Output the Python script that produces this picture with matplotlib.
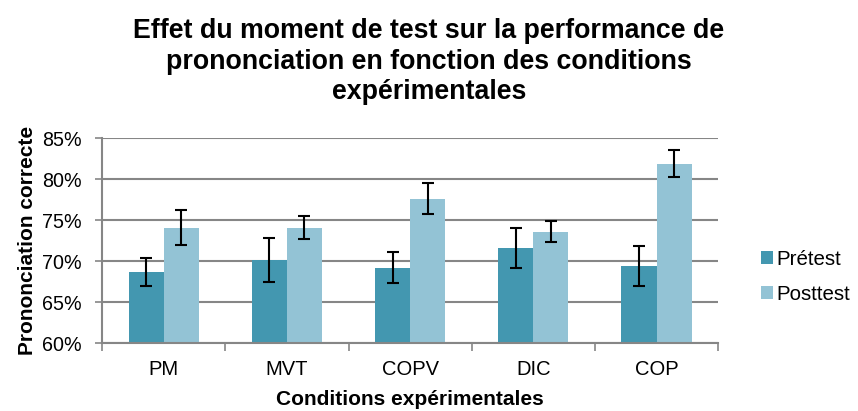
import numpy as np
import matplotlib.pyplot as plt
from matplotlib.ticker import PercentFormatter

conditions = ['PM', 'MVT', 'COPV', 'DIC', 'COP']
pretest = [68.7, 70.1, 69.2, 71.6, 69.4]
posttest = [74.1, 74.1, 77.6, 73.6, 81.9]
pretest_err = [1.7, 2.7, 1.9, 2.45, 2.4]
posttest_err = [2.1, 1.35, 1.9, 1.25, 1.65]

plt.rcParams['font.family'] = ['Liberation Sans', 'DejaVu Sans']

fig = plt.figure(figsize=(8.58, 4.11), dpi=100)
ax = fig.add_axes([0.119, 0.165, 0.718, 0.499])

x = np.arange(len(conditions))
w = 0.285
grid_c = '#868686'
ax.bar(x - w/2, pretest, w, color='#4397B0', label='Prétest', zorder=2)
ax.bar(x + w/2, posttest, w, color='#93C3D5', label='Posttest', zorder=2)
ax.errorbar(x - w/2, pretest, yerr=pretest_err, fmt='none', ecolor='black',
            elinewidth=1.5, capsize=4.3, capthick=1.5, zorder=3)
ax.errorbar(x + w/2, posttest, yerr=posttest_err, fmt='none', ecolor='black',
            elinewidth=1.5, capsize=4.3, capthick=1.5, zorder=3)

ax.set_ylim(60, 85)
ax.set_xlim(-0.5, len(conditions) - 0.5)
ax.set_yticks(np.arange(60, 86, 5))
ax.yaxis.set_major_formatter(PercentFormatter(decimals=0))
ax.set_xticks(np.arange(len(conditions) + 1) - 0.5)
ax.set_xticklabels([])
ax.set_xticks(x, minor=True)
ax.set_xticklabels(conditions, minor=True)
ax.tick_params(axis='x', which='major', length=6, width=1.2, color=grid_c)
ax.tick_params(axis='x', which='minor', length=0, labelsize=14.5, pad=12)
ax.tick_params(axis='y', length=5, width=1.2, color=grid_c, labelsize=14.2, pad=9.5)

ax.grid(axis='y', color=grid_c, linewidth=1.5, zorder=0)
ax.set_axisbelow(True)
for s in ['top', 'right']:
    ax.spines[s].set_visible(False)
for s in ['left', 'bottom']:
    ax.spines[s].set_color(grid_c)
    ax.spines[s].set_linewidth(1.5)

ax.set_ylabel('Prononciation correcte', fontsize=15, fontweight='bold', labelpad=4)
ax.set_xlabel('Conditions expérimentales', fontsize=15, fontweight='bold', labelpad=8)

fig.suptitle('Effet du moment de test sur la performance de\n'
             'prononciation en fonction des conditions\nexpérimentales',
             fontsize=19.3, fontweight='bold', x=0.5, y=0.955, linespacing=1.22)

leg = ax.legend(loc='center left', bbox_to_anchor=(1.04, 0.323), frameon=False,
                fontsize=14.8, handlelength=0.58, handleheight=0.58,
                handletextpad=0.15, labelspacing=0.78)

fig.savefig('out.png', dpi=100)
